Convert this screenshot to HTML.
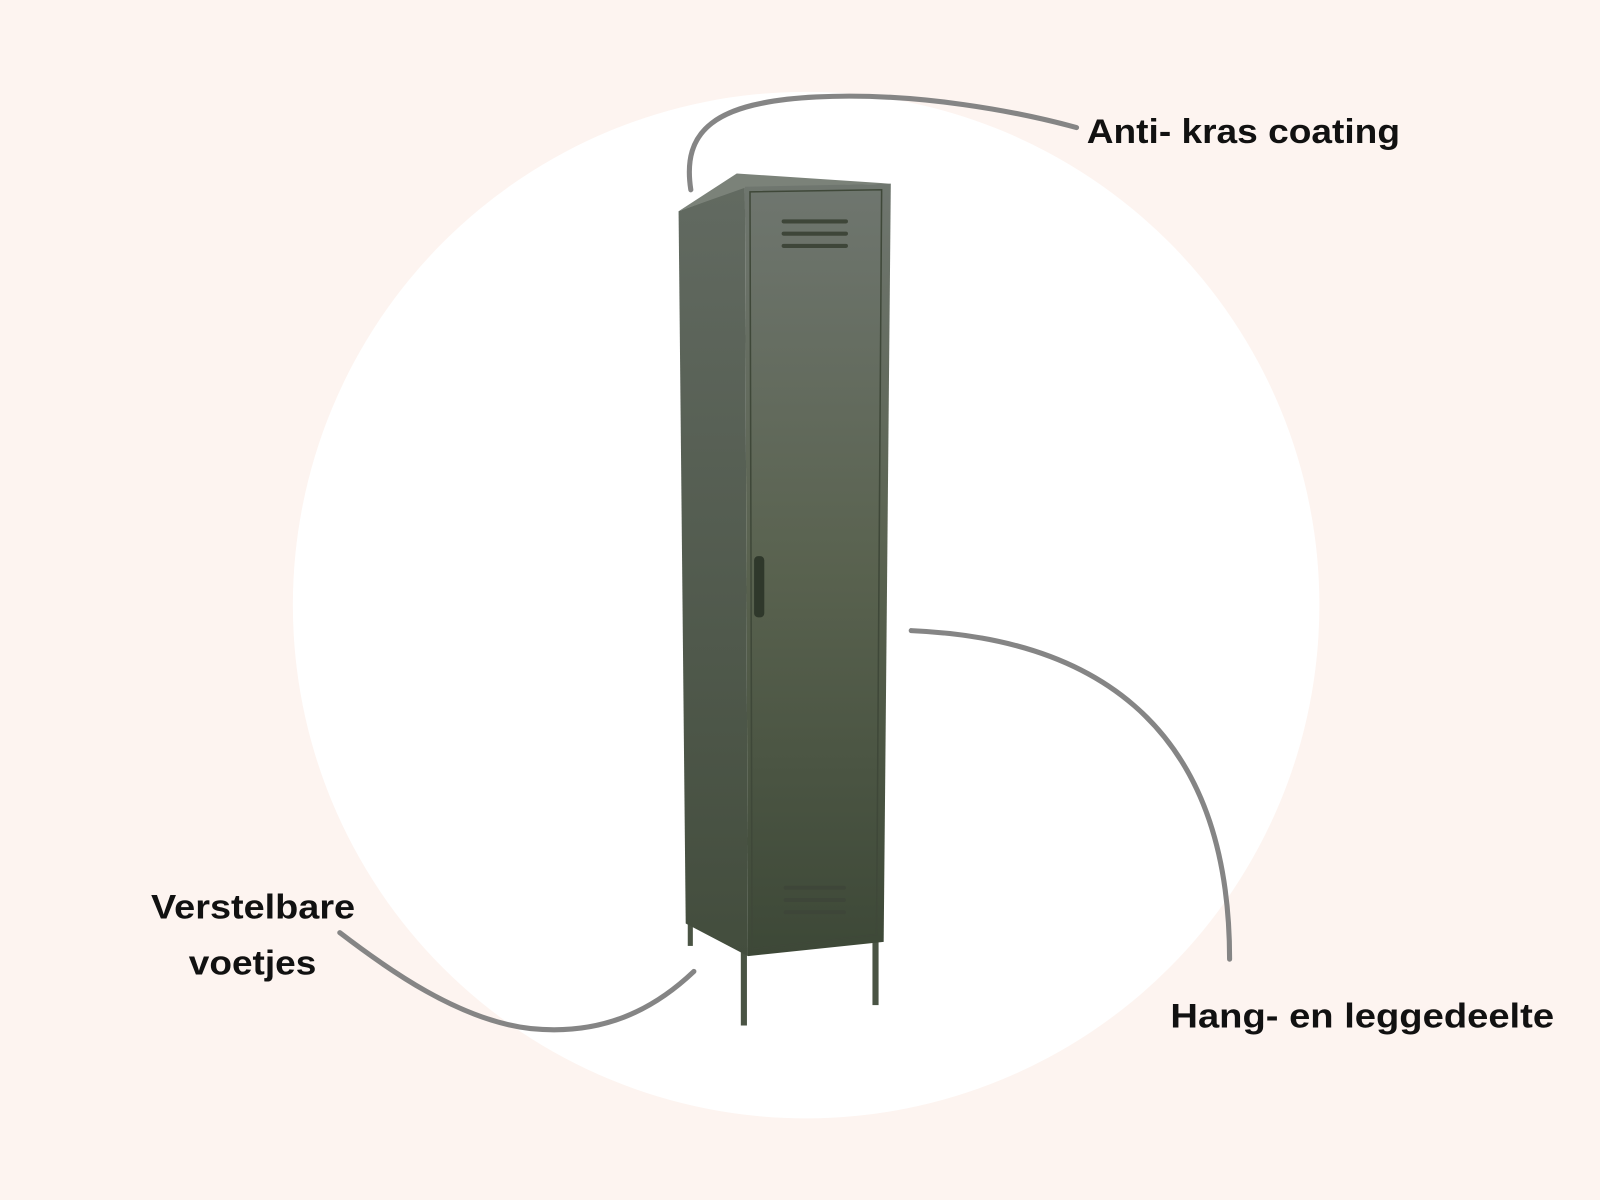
<!DOCTYPE html>
<html><head><meta charset="utf-8"><style>
html,body{margin:0;padding:0;background:#fdf4f0;}
svg{display:block;}
text{font-family:"Liberation Sans",sans-serif;font-weight:bold;fill:#111;}
</style></head><body>
<svg width="1600" height="1200" viewBox="0 0 1568 1176" xmlns="http://www.w3.org/2000/svg">
<defs>
<linearGradient id="door" x1="0" y1="0" x2="0" y2="1">
<stop offset="0" stop-color="#6f766f"/><stop offset="0.5" stop-color="#59624f"/><stop offset="1" stop-color="#3d4837"/>
</linearGradient>
<linearGradient id="side" x1="0" y1="0" x2="0" y2="1">
<stop offset="0" stop-color="#626a61"/><stop offset="1" stop-color="#434d3d"/>
</linearGradient>
</defs>
<rect width="1568" height="1176" fill="#fdf4f0"/>
<circle cx="790" cy="593" r="503" fill="#ffffff"/>
<!-- legs -->
<rect x="674" y="895" width="5" height="32" fill="#4a5444"/>
<rect x="726" y="925" width="6" height="80" fill="#4a5444"/>
<rect x="855" y="915" width="6" height="70" fill="#4a5444"/>
<!-- side -->
<polygon points="665,207 730,183 733,937 672,905" fill="url(#side)"/>
<!-- top -->
<polygon points="665,207 722,170 873,180 730,184" fill="#7b8279"/>
<!-- front -->
<polygon points="730,183 873,180 866,923 733,937" fill="url(#door)"/>
<polygon points="735,188 864,186 859,916 737,930" fill="none" stroke="#3f4839" stroke-width="1.5"/>
<!-- vents -->
<g stroke="#3e4639" stroke-width="4" stroke-linecap="round">
<line x1="768" y1="217" x2="829" y2="217"/>
<line x1="768" y1="229" x2="829" y2="229"/>
<line x1="768" y1="241" x2="829" y2="241"/>
<line x1="770" y1="870" x2="827" y2="870"/>
<line x1="770" y1="882" x2="827" y2="882"/>
<line x1="770" y1="894" x2="827" y2="894"/>
</g>
<rect x="739" y="545" width="10" height="60" rx="4" fill="#2f382b"/>
<!-- connectors -->
<g fill="none" stroke="#858585" stroke-width="5" stroke-linecap="round">
<path d="M677,186 C668,128 700,100 800,95 C900,90 1000,110 1055,125"/>
<path d="M893,618 C1060,625 1205,700 1205,940"/>
<path d="M680,952 C640,990 590,1015 520,1008 C450,1000 380,950 333,914"/>
</g>
<text x="1065" y="140" font-size="34" textLength="307" lengthAdjust="spacingAndGlyphs">Anti- kras coating</text>
<text x="148" y="900" font-size="34" textLength="200" lengthAdjust="spacingAndGlyphs">Verstelbare</text>
<text x="185" y="955" font-size="34" textLength="125" lengthAdjust="spacingAndGlyphs">voetjes</text>
<text x="1147" y="1007" font-size="34" textLength="376" lengthAdjust="spacingAndGlyphs">Hang- en leggedeelte</text>
</svg>
</body></html>
